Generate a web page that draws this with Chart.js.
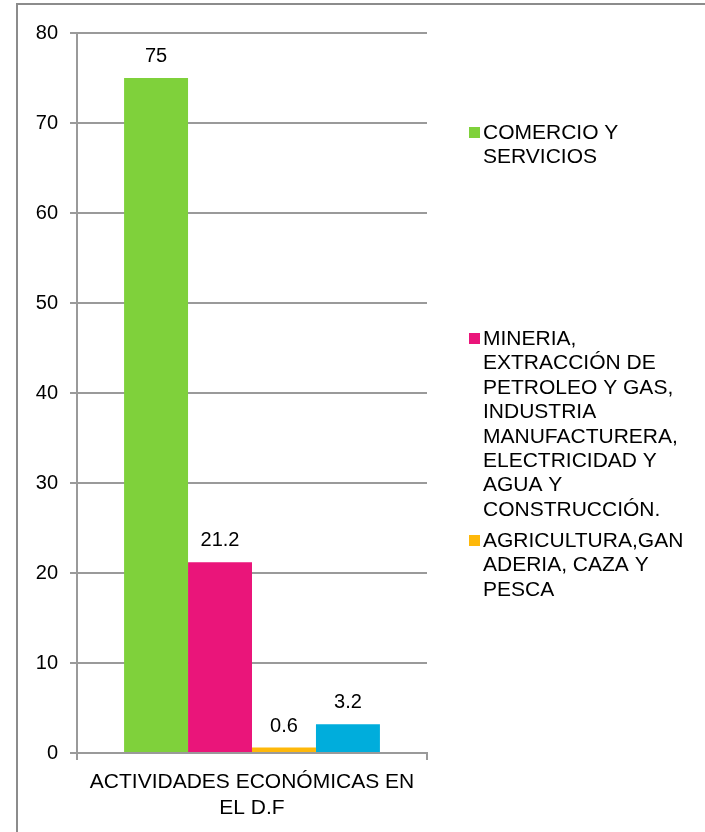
<!DOCTYPE html>
<html>
<head>
<meta charset="utf-8">
<title>Actividades económicas en el D.F</title>
<script src="https://cdn.jsdelivr.net/npm/chart.js@4"></script>
<style>
    body { margin: 0; background: #fff; }
    #divContainer { position: relative; width: 705px; height: 832px; overflow: hidden; }
    #divFrame { position: absolute; left: 16px; top: 3px; width: 720px; height: 860px; border: 2px solid #8c8c8c; pointer-events: none; }
</style>
</head>
<body>
<div id="divContainer">
    <canvas id="barActividades"></canvas>
    <div id="divFrame"></div>
</div>
<script>
var categories = [['ACTIVIDADES ECONÓMICAS EN', 'EL D.F']]
var seriesNames = [
    ['COMERCIO Y', 'SERVICIOS'],
    ['MINERIA,', 'EXTRACCIÓN DE', 'PETROLEO Y GAS,', 'INDUSTRIA', 'MANUFACTURERA,', 'ELECTRICIDAD Y', 'AGUA Y', 'CONSTRUCCIÓN.'],
    ['AGRICULTURA,GAN', 'ADERIA, CAZA Y', 'PESCA'],
    []
]
var seriesValues = [75, 21.2, 0.6, 3.2]
var seriesColors = ['#7fd13b', '#ea157a', '#feb80a', '#00addc']
var yTicks = [0, 10, 20, 30, 40, 50, 60, 70, 80]

var fontFamily = '"Liberation Sans", Arial, sans-serif'
var gridColor = '#9a9a9a'

// value written above each bar
var valueLabels = {
    id: 'valueLabels',
    afterDatasetsDraw: (chart) => {
        var ctx = chart.ctx
        ctx.save()
        ctx.font = `20px ${fontFamily}`
        ctx.fillStyle = '#000'
        ctx.textAlign = 'center'
        ctx.textBaseline = 'alphabetic'
        chart.data.datasets.forEach((ds, i) => {
            chart.getDatasetMeta(i).data.forEach((bar, j) => {
                ctx.fillText(String(ds.data[j]), bar.x, bar.y - 16)
            })
        })
        ctx.restore()
    }
}

// legend on the right, entries wrapped over several lines
var sideLegend = {
    id: 'sideLegend',
    afterDraw: (chart, args, opts) => {
        var ctx = chart.ctx
        ctx.save()
        ctx.font = `${opts.fontSize}px ${fontFamily}`
        ctx.textBaseline = 'alphabetic'
        ctx.textAlign = 'left'
        var row = 0
        chart.data.datasets.forEach((ds) => {
            if (!ds.label.length) return
            var y = opts.baselines[row++]
            ctx.fillStyle = ds.backgroundColor
            ctx.fillRect(opts.x, y - 12, 11, 11)
            ctx.fillStyle = '#000'
            ds.label.forEach((line, i) => {
                ctx.fillText(line, opts.x + 14, y + i * opts.lineHeight)
            })
        })
        ctx.restore()
    }
}

var fnInitializeBarChart = () => {
    Chart.defaults.font.family = fontFamily
    Chart.defaults.color = '#000'
    var ctxB = document.getElementById('barActividades').getContext('2d')
    var barChart = new Chart(ctxB, {
        type: 'bar',
        data: {
            labels: categories,
            datasets: seriesValues.map((v, i) => {
                return {
                    label: seriesNames[i],
                    data: [v],
                    backgroundColor: seriesColors[i],
                    borderWidth: 0,
                    barPercentage: 1,
                    categoryPercentage: 0.731
                }
            })
        },
        options: {
            responsive: true,
            maintainAspectRatio: false,
            animation: false,
            layout: { padding: { top: 33, right: 278, left: 0, bottom: 0 } },
            plugins: {
                legend: { display: false },
                tooltip: { enabled: false },
                sideLegend: { x: 469, baselines: [139, 345, 547], lineHeight: 24.4, fontSize: 21 }
            },
            scales: {
                x: {
                    grid: { drawOnChartArea: false, color: gridColor, lineWidth: 2, tickLength: 7, offset: true },
                    border: { color: gridColor, width: 2 },
                    ticks: { font: { size: 21, lineHeight: 1.2 }, color: '#000', padding: 10, maxRotation: 0 },
                    afterFit: (s) => { s.height = 79 }
                },
                y: {
                    min: 0,
                    max: 80,
                    grid: { color: gridColor, lineWidth: 2, tickLength: 7 },
                    border: { color: gridColor, width: 2 },
                    ticks: { font: { size: 20 }, color: '#000', padding: 12 },
                    afterBuildTicks: (s) => { s.ticks = yTicks.map(v => ({ value: v })) },
                    afterFit: (s) => { s.width = 77 }
                }
            }
        },
        plugins: [valueLabels, sideLegend]
    })
}

fnInitializeBarChart()
</script>
</body>
</html>
